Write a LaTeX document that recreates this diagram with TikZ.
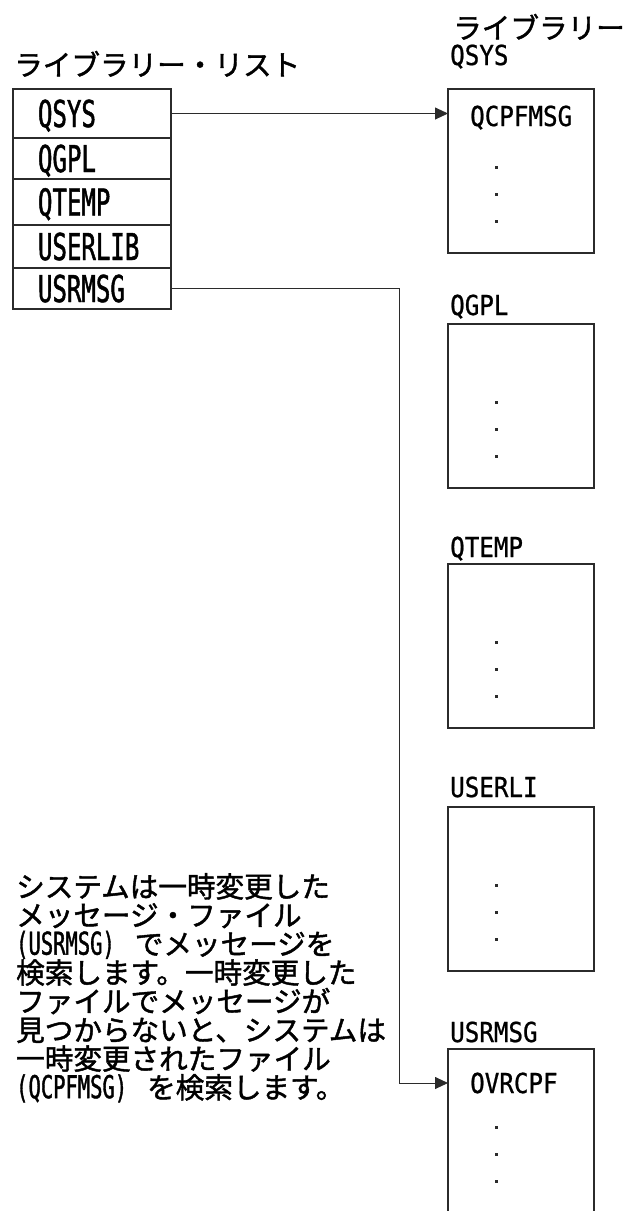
\documentclass[tikz,border=0pt]{standalone}
\usepackage{fontspec}
\usetikzlibrary{arrows.meta,positioning,calc}
\newfontfamily\jpfont[FakeBold=1.5]{Noto Sans CJK JP}
\newfontfamily\ibmnarrow[FakeStretch=0.65,FakeBold=1.2]{DejaVu Sans Mono}
\newfontfamily\ibmwide[FakeStretch=0.88,FakeBold=0.8]{DejaVu Sans Mono}
\definecolor{linedark}{HTML}{2B2B2B}
\tikzset{
  >=Triangle,
  jptext/.style={font=\jpfont\fontsize{28.6}{28.7}\selectfont, inner sep=0pt, text=black},
  listrow/.style={
    rectangle, draw=linedark, line width=1.1pt, outer sep=0pt,
    minimum width=158pt, text width=108pt, inner xsep=25pt, inner ysep=0pt,
    align=left, font=\ibmnarrow\fontsize{37}{40}\selectfont,
    text height=27pt, text depth=0pt
  },
  libbox/.style={
    rectangle, draw=linedark, line width=1.1pt, outer sep=0pt,
    minimum width=146pt, minimum height=164pt, inner sep=0pt
  },
  liblabel/.style={font=\ibmwide\fontsize{27.5}{30}\selectfont, text height=20pt, text depth=0pt, inner sep=0pt, anchor=west},
  arrow/.style={-{Triangle[length=13pt,width=12pt]}, line width=0.9pt, draw=linedark}
}
\newcommand{\libdots}[1]{
  \fill[linedark] ($(#1.north west)+(46.5,76.5)$) rectangle ++(3,3);
  \fill[linedark] ($(#1.north west)+(46.5,103.5)$) rectangle ++(3,3);
  \fill[linedark] ($(#1.north west)+(46.5,130.5)$) rectangle ++(3,3);
}

\begin{document}
\begin{tikzpicture}[x=1pt, y=-1pt]
\useasboundingbox (0,0) rectangle (628,1211);
% library list
\node[jptext, anchor=base west] (listhead) at (14,75.5) {ライブラリー・リスト};
\node[listrow, minimum height=49pt, anchor=north west] (lqsys) at (13,89) {QSYS};
\node[listrow, minimum height=41pt, below=0pt of lqsys] (lqgpl) {QGPL};
\node[listrow, minimum height=46pt, below=0pt of lqgpl] (lqtemp) {QTEMP};
\node[listrow, minimum height=43pt, below=0pt of lqtemp] (luserlib) {USERLIB};
\node[listrow, minimum height=41pt, below=0pt of luserlib] (lusrmsg) {USRMSG};
% libraries
\node[jptext, anchor=base west] (libhead) at (453,38.5) {ライブラリー};
\node[liblabel] (qsyslabel) at (450,55) {QSYS};
\node[libbox, anchor=north west] (qsysbox) at (448,89) {};
\node[liblabel] (qcpfmsg) at (470,116) {QCPFMSG};
\libdots{qsysbox}
\node[libbox, anchor=north west] (qgplbox) at (448,324) {};
\node[liblabel] (qgpllabel) at ($(qgplbox.north west)+(2,-19)$) {QGPL};
\libdots{qgplbox}
\node[libbox, anchor=north west] (qtempbox) at (448,564) {};
\node[liblabel] (qtemplabel) at ($(qtempbox.north west)+(2,-17)$) {QTEMP};
\libdots{qtempbox}
\node[libbox, anchor=north west] (userlibox) at (448,807) {};
\node[liblabel] (userlilabel) at ($(userlibox.north west)+(2,-20)$) {USERLI};
\libdots{userlibox}
\node[libbox, anchor=north west, minimum height=175pt] (usrmsgbox) at (448,1049) {};
\node[liblabel] (usrmsglabel) at ($(usrmsgbox.north west)+(2,-17)$) {USRMSG};
\node[liblabel] (ovrcpf) at (470,1083) {OVRCPF};
\libdots{usrmsgbox}
% note
\node[jptext, anchor=north west, align=left] (note) at (16,873) {システムは一時変更した\\
メッセージ・ファイル\\
{\ibmnarrow\fontsize{31.5}{28.7}\selectfont (USRMSG)}\hspace{20pt}でメッセージを\\
検索します。一時変更した\\
ファイルでメッセージが\\
見つからないと、システムは\\
一時変更されたファイル\\
{\ibmnarrow\fontsize{31.5}{28.7}\selectfont (QCPFMSG)}\hspace{20pt}を検索します。};
% connectors
\coordinate (drop) at (399,1083);
\draw[arrow] (lqsys.east) -- (lqsys.east -| qsysbox.west);
\draw[arrow] (lusrmsg.east) -| (drop) -- (usrmsgbox.west |- drop);
\end{tikzpicture}
\end{document}
